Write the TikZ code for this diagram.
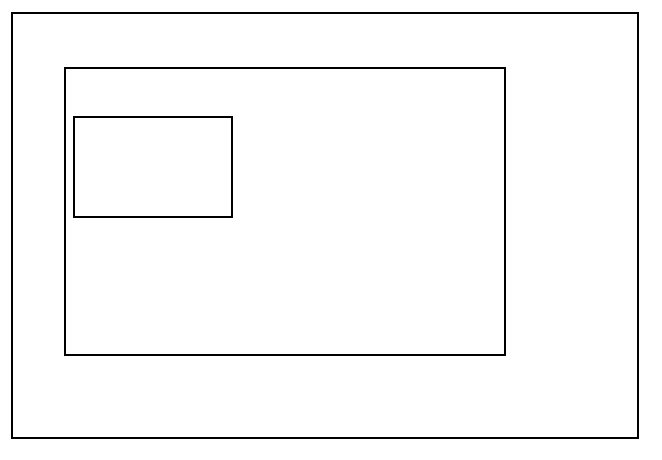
\documentclass[tikz,border=0pt]{standalone}
\usetikzlibrary{positioning}

\begin{document}
\begin{tikzpicture}[
		x=1pt, y=-1pt,
		frame/.style={draw, rectangle, line width=1.5pt, inner sep=0pt, outer sep=0pt},
	]
	\useasboundingbox (0, 0) rectangle (662, 459);
	\node[frame, minimum width=626pt, minimum height=425pt] (outer) at (325, 225.5) {};
	\node[frame, minimum width=440pt, minimum height=287pt] (middle) at (285, 211.5) {};
	\node[frame, minimum width=158pt, minimum height=100pt] (inner) at (153, 167) {};
\end{tikzpicture}
\end{document}
